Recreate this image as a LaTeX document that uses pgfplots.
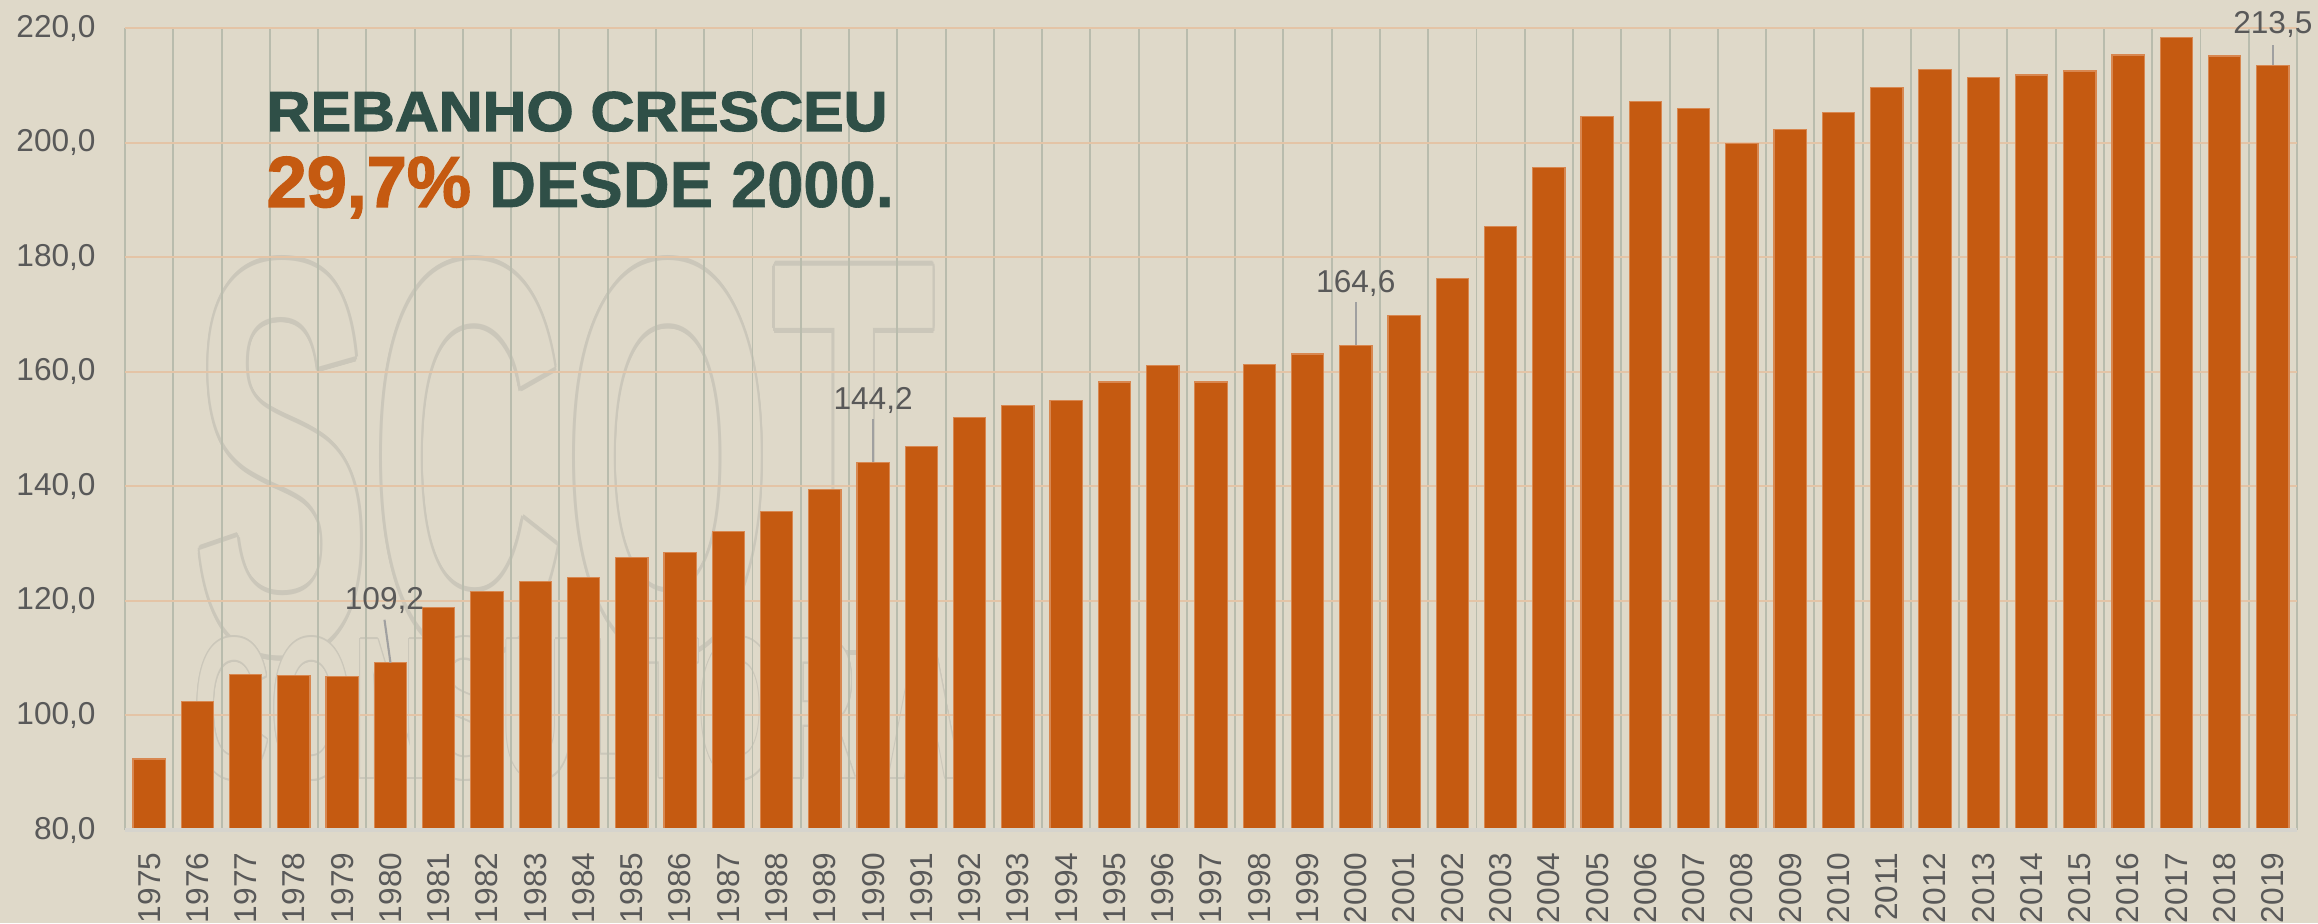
\documentclass[border=0pt]{standalone}
\usepackage{fontspec}
\setmainfont{Liberation Sans}
\newfontfamily\heavy[FakeBold=2]{Liberation Sans Bold}
\newfontfamily\semiheavy[FakeBold=1]{Liberation Sans Bold}
\newfontfamily\wmfont{Liberation Sans Bold}
\usepackage{pgfplots}
\pgfplotsset{compat=1.18}
\usepackage{contour}
\definecolor{bg}{RGB}{223,217,201}
\definecolor{barc}{RGB}{197,90,17}
\definecolor{baredge}{RGB}{216,135,80}
\definecolor{hgrid}{RGB}{228,196,166}
\definecolor{vgrid}{RGB}{185,188,173}
\definecolor{tickc}{RGB}{89,89,89}
\definecolor{ttl}{RGB}{47,79,71}
\definecolor{wm}{RGB}{203,199,186}
\definecolor{lead}{RGB}{160,160,160}
\definecolor{axbase}{RGB}{214,212,205}
\begin{document}
\begin{tikzpicture}
\fill[bg] (0,0) rectangle (23.18,9.23);
% watermark (outlined letters)
\node[anchor=north west, inner sep=0] at (1.92,6.63) {\resizebox{7.43cm}{3.9cm}{\wmfont\fontsize{100pt}{100pt}\selectfont\contourlength{0.9pt}\contournumber{12}\contour{wm}{\textcolor{bg}{SCOT}}}};
\node[anchor=north west, inner sep=0] at (1.93,2.86) {\resizebox{7.7cm}{1.4cm}{\wmfont\fontsize{100pt}{100pt}\selectfont\contourlength{0.9pt}\contournumber{12}\contour{wm}{\textcolor{bg}{CONSULTORIA}}}};
\begin{axis}[
  at={(1.25cm,0.93cm)}, anchor=south west, scale only axis,
  width=21.72cm, height=8.02cm,
  xmin=-0.5, xmax=44.5, ymin=80, ymax=220,
  ybar, bar width=0.323cm,
  xtick={0,...,44},
  minor xtick={-0.5,0.5,...,44.5},
  major tick length=0pt, minor tick length=0pt,
  xminorgrids=true,
  minor x grid style={vgrid, line width=0.55pt},
  ytick={80,100,...,220},
  ymajorgrids=true,
  y grid style={hgrid, line width=0.55pt},
  axis line style={draw=none},
  clip=false,
  yticklabel={\pgfmathprintnumber[fixed,fixed zerofill,precision=1,use comma,assume math mode=true]{\tick}},
  xticklabel={\pgfmathparse{int(round(\tick+1975))}\pgfmathresult},
  yticklabel style={font=\fontsize{9}{9}\selectfont, text=tickc, anchor=east, xshift=-0.17cm},
  xticklabel style={font=\fontsize{9}{9}\selectfont, text=tickc, inner sep=0pt, yshift=-0.22cm, rotate=90, anchor=east},
]
\addplot[fill=barc, draw=baredge, line width=0.35pt] coordinates {
(0,92.4) (1,102.4) (2,107.2) (3,107.0) (4,106.8)
(5,109.2) (6,118.9) (7,121.7) (8,123.4) (9,124.1)
(10,127.6) (11,128.4) (12,132.1) (13,135.6) (14,139.5)
(15,144.2) (16,147.0) (17,152.0) (18,154.1) (19,155.0)
(20,158.2) (21,161.1) (22,158.2) (23,161.3) (24,163.1)
(25,164.6) (26,169.8) (27,176.3) (28,185.3) (29,195.6)
(30,204.6) (31,207.2) (32,205.9) (33,199.8) (34,202.3)
(35,205.3) (36,209.6) (37,212.8) (38,211.3) (39,211.8)
(40,212.5) (41,215.3) (42,218.3) (43,215.1) (44,213.5)
};
\draw[axbase, line width=1.2pt] (axis cs:-0.5,80) -- (axis cs:44.5,80);
\draw[lead, line width=0.6pt] (axis cs:5,109.2) -- (axis cs:4.876,116.7) node[anchor=base, yshift=0.1cm, inner sep=0, text=tickc, font=\fontsize{9}{9}\selectfont] {109,2};
\draw[lead, line width=0.6pt] (axis cs:15,144.2) -- (axis cs:15,151.7) node[anchor=base, yshift=0.1cm, inner sep=0, text=tickc, font=\fontsize{9}{9}\selectfont] {144,2};
\draw[lead, line width=0.6pt] (axis cs:25,164.6) -- (axis cs:25,172.1) node[anchor=base, yshift=0.1cm, inner sep=0, text=tickc, font=\fontsize{9}{9}\selectfont] {164,6};
\draw[lead, line width=0.6pt] (axis cs:44,213.5) -- (axis cs:44,217.0) node[anchor=base, yshift=0.12cm, inner sep=0, text=tickc, font=\fontsize{9}{9}\selectfont] {213,5};
\end{axis}
\node[anchor=base west, inner sep=0] at (2.66,7.92) {\heavy\fontsize{16}{16}\selectfont\color{ttl}\scalebox{1.08}[1]{REBANHO CRESCEU}};
\node[anchor=base west, inner sep=0] at (2.66,7.16) {\heavy\color{barc}\fontsize{20.5}{20.5}\selectfont 29,7\%\semiheavy\color{ttl}\fontsize{18.5}{18.5}\selectfont{} DESDE 2000.};
\end{tikzpicture}
\end{document}
